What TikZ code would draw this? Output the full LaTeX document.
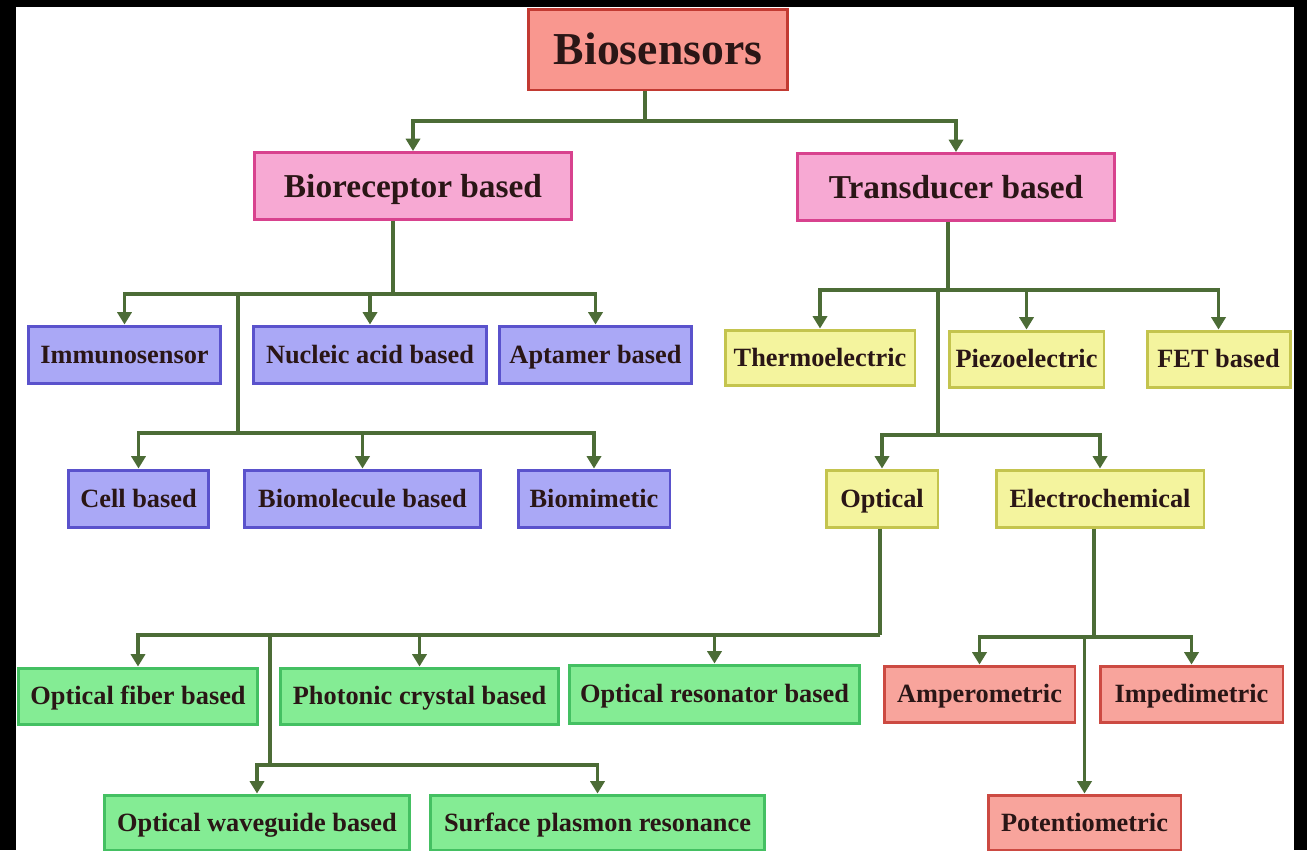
\documentclass[tikz,border=0pt]{standalone}
\usepackage{fontspec}
\setmainfont{Liberation Serif}
\usetikzlibrary{arrows.meta}

\definecolor{lineg}{HTML}{4C6C36}
\definecolor{txt}{HTML}{2A1616}
\definecolor{redfill}{HTML}{F9978F}
\definecolor{reddraw}{HTML}{C23A32}
\definecolor{pinkfill}{HTML}{F7A9D3}
\definecolor{pinkdraw}{HTML}{D8428E}
\definecolor{bluefill}{HTML}{AAA8F6}
\definecolor{bluedraw}{HTML}{5A52CC}
\definecolor{yelfill}{HTML}{F4F49E}
\definecolor{yeldraw}{HTML}{C4C44E}
\definecolor{grnfill}{HTML}{84EC94}
\definecolor{grndraw}{HTML}{44C062}
\definecolor{salfill}{HTML}{F8A49C}
\definecolor{saldraw}{HTML}{CC4A42}

\begin{document}
\begin{tikzpicture}[x=0.02cm,y=-0.02cm,
    box/.style={draw, line width=1.7pt, inner sep=2pt, text=txt,
        font=\bfseries\fontsize{15}{18}\selectfont, text height=10.5pt, text depth=0.6pt,
        minimum height=1.14cm},
    topbox/.style={box, fill=redfill, draw=reddraw, minimum width=5.2cm, minimum height=1.62cm,
        font=\bfseries\fontsize{26}{30}\selectfont, text height=18pt, text depth=0.8pt},
    midbox/.style={box, fill=pinkfill, draw=pinkdraw, minimum width=6.36cm, minimum height=1.34cm,
        font=\bfseries\fontsize{19}{23}\selectfont, text height=13.3pt, text depth=0.75pt},
    biobox/.style={box, fill=bluefill, draw=bluedraw},
    trbox/.style={box, fill=yelfill, draw=yeldraw},
    optbox/.style={box, fill=grnfill, draw=grndraw, minimum height=1.12cm},
    elbox/.style={box, fill=salfill, draw=saldraw, minimum height=1.12cm},
    conn/.style={draw=lineg, line width=2.2pt},
    arr/.style={conn, -{Triangle[width=8pt,length=7pt]}}]

    \useasboundingbox (0,0) rectangle (1307,850);
    \fill[black] (0,0) rectangle (1307,850);
    \fill[white] (16,7) rectangle (1294,850);

    \node[topbox] (bio) at (658,49.5) {Biosensors};
    \node[midbox] (bior) at (413,186) {Bioreceptor based};
    \node[midbox] (trans) at (956,187) {Transducer based};

    \node[biobox, minimum width=3.86cm] (immuno) at (124.5,354.5) {Immunosensor};
    \node[biobox, minimum width=4.68cm] (nucleic) at (370,354.5) {Nucleic acid based};
    \node[biobox, minimum width=3.86cm] (aptamer) at (595.5,354.5) {Aptamer based};
    \node[biobox, minimum width=2.82cm] (cell) at (138.5,498.5) {Cell based};
    \node[biobox, minimum width=4.74cm] (biomol) at (362.5,498.5) {Biomolecule based};
    \node[biobox, minimum width=3.04cm] (biomim) at (594,498.5) {Biomimetic};

    \node[trbox, minimum width=3.8cm, minimum height=1.1cm] (thermo) at (820,357.5) {Thermoelectric};
    \node[trbox, minimum width=3.1cm, minimum height=1.12cm] (piezo) at (1026.5,359) {Piezoelectric};
    \node[trbox, minimum width=2.86cm, minimum height=1.12cm] (fet) at (1218.5,359) {FET based};
    \node[trbox, minimum width=2.24cm] (optical) at (882,498.5) {Optical};
    \node[trbox, minimum width=4.16cm] (electro) at (1100,498.5) {Electrochemical};

    \node[optbox, minimum width=4.8cm] (fiber) at (138,696) {Optical fiber based};
    \node[optbox, minimum width=5.58cm] (photonic) at (419.5,696) {Photonic crystal based};
    \node[optbox, minimum width=5.82cm, minimum height=1.16cm] (resonator) at (714.5,694) {Optical resonator based};
    \node[optbox, minimum width=6.12cm, minimum height=1.1cm] (waveguide) at (257,822.5) {Optical waveguide based};
    \node[optbox, minimum width=6.7cm, minimum height=1.1cm] (spr) at (597.5,822.5) {Surface plasmon resonance};

    \node[elbox, minimum width=3.82cm] (amper) at (979.5,694) {Amperometric};
    \node[elbox, minimum width=3.66cm] (imped) at (1191.5,694) {Impedimetric};
    \node[elbox, minimum width=3.86cm, minimum height=1.1cm] (potentio) at (1084.5,822.5) {Potentiometric};

    % bus junctions
    \coordinate (j0) at (645,121);
    \coordinate (b0) at (393,294);
    \coordinate (b1) at (238,294);
    \coordinate (b2) at (238,433);
    \coordinate (t0) at (948,290);
    \coordinate (t1) at (938,290);
    \coordinate (t2) at (938,435);
    \coordinate (o0) at (880,635);
    \coordinate (o1) at (270,635);
    \coordinate (o2) at (270,765);
    \coordinate (e0) at (1094,637);

    \draw[conn] (j0 |- bio.south) -- (j0);
    \draw[arr] (j0) -| (bior);
    \draw[arr] (j0) -| (trans);

    \draw[conn] (b0 |- bior.south) -- (b0);
    \draw[arr] (b0) -| (immuno);
    \draw[arr] (b0) -| (nucleic);
    \draw[arr] (b0) -| (aptamer);
    \draw[conn] (b1) -- (b2);
    \draw[arr] (b2) -| (cell);
    \draw[arr] (b2) -| (biomol);
    \draw[arr] (b2) -| (biomim);

    \draw[conn] (t0 |- trans.south) -- (t0);
    \draw[arr] (t0) -| (thermo);
    \draw[arr] (t0) -| (piezo);
    \draw[arr] (t0) -| (fet);
    \draw[conn] (t1) -- (t2);
    \draw[arr] (t2) -| (optical);
    \draw[arr] (t2) -| (electro);

    \draw[conn] (o0 |- optical.south) -- (o0);
    \draw[arr] (o0) -| (fiber);
    \draw[arr] (o0) -| (photonic);
    \draw[arr] (o0) -| (resonator);
    \draw[conn] (o1) -- (o2);
    \draw[arr] (o2) -| (waveguide);
    \draw[arr] (o2) -| (spr);

    \draw[conn] (e0 |- electro.south) -- (e0);
    \draw[arr] (e0) -| (amper);
    \draw[arr] (e0) -| (imped);
    \draw[arr] (e0) -| (potentio);
\end{tikzpicture}
\end{document}
